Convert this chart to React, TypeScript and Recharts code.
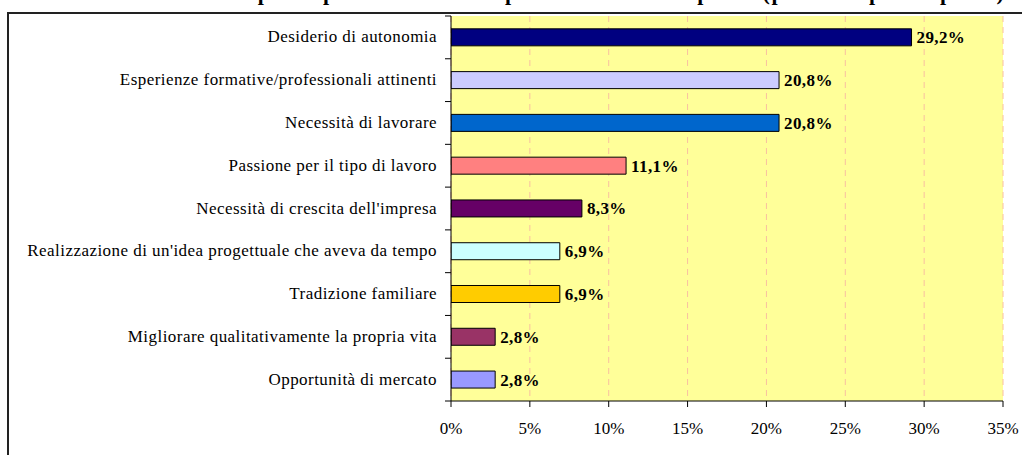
import { BarChart, Bar, XAxis, YAxis, CartesianGrid, Cell, LabelList } from "recharts"

// categorie e valori (% risposte)
const categories = [
 "Desiderio di autonomia",
 "Esperienze formative/professionali attinenti",
 "Necessità di lavorare",
 "Passione per il tipo di lavoro",
 "Necessità di crescita dell'impresa",
 "Realizzazione di un'idea progettuale che aveva da tempo",
 "Tradizione familiare",
 "Migliorare qualitativamente la propria vita",
 "Opportunità di mercato"
]
const values = [29.2, 20.8, 20.8, 11.1, 8.3, 6.9, 6.9, 2.8, 2.8]
const colors = ["#000080", "#CCCCFF", "#0066CC", "#FF8080", "#660066", "#CCFFFF", "#FFCC00", "#993366", "#9999FF"]
const xTicks = [0, 5, 10, 15, 20, 25, 30, 35]

const title = "Grafico n. 5 - Le principali motivazioni per avviare un'impresa (possibili più risposte)"

const W = 1022
const H = 455
const TOP = 16
const BOTTOM = 401
const LEFT = 451
const BAND = (BOTTOM - TOP) / categories.length

const data = categories.map((name, i) => ({ name, value: values[i] }))

const fmt = (v: any) => Number(v).toFixed(1).replace(".", ",") + "%"

const YTick = (props: any) => {
 const { y, payload, index } = props
 const last = index === categories.length - 1
 return (
  <g>
   <text x={LEFT - 14} y={y + 5} textAnchor="end" fontSize={17} letterSpacing={0.45} fill="#000">{payload.value}</text>
   <line x1={LEFT - 6} x2={LEFT} y1={y - BAND / 2} y2={y - BAND / 2} stroke="#000" />
   {last && <line x1={LEFT - 6} x2={LEFT} y1={y + BAND / 2} y2={y + BAND / 2} stroke="#000" />}
  </g>
 )
}

const XTick = (props: any) => {
 const { x, y, payload } = props
 return <text x={x} y={y + 25} textAnchor="middle" fontSize={17} fill="#000">{payload.value}%</text>
}

export default function App(){
 return(
 <div style={{ position: "absolute", left: 0, top: 0, width: W, height: H, overflow: "hidden", background: "#fff", fontFamily: "'Liberation Serif', 'Times New Roman', serif" }}>

  {/* titolo, tagliato in alto come nell'originale */}
  <div style={{ position: "absolute", left: 0, top: -18, width: 1076, textAlign: "center", fontSize: 22, lineHeight: "22px", letterSpacing: 1.5, fontWeight: "bold", whiteSpace: "nowrap" }}>
   {title}
  </div>

  {/* cornice */}
  <div style={{ position: "absolute", left: 7, top: 12, width: 1100, height: 500, borderLeft: "2px solid #222", borderTop: "2px solid #222" }} />

  <div style={{ position: "absolute", left: 0, top: 0 }}>
   <BarChart width={W} height={H} data={data} layout="vertical" margin={{ top: TOP, right: W - 1003, bottom: 24, left: 0 }} barCategoryGap="30%">

    <CartesianGrid horizontal={false} fill="#FFFF99" stroke="#F8C0A0" strokeDasharray="6 5" />

    <XAxis type="number" domain={[0, 35]} ticks={xTicks} allowDataOverflow height={30}
     axisLine={{ stroke: "#000" }} tickLine={{ stroke: "#000" }} tickSize={6} tickMargin={2} tick={<XTick />} />
    <XAxis xAxisId="top" orientation="top" type="number" domain={[0, 35]} height={0}
     axisLine={{ stroke: "#808080" }} tick={false} tickLine={false} />

    <YAxis type="category" dataKey="name" width={LEFT} axisLine={{ stroke: "#000" }} tickLine={false} tick={<YTick />} interval={0} />
    <YAxis yAxisId="right" orientation="right" type="category" dataKey="name" width={0}
     axisLine={{ stroke: "#808080" }} tick={false} tickLine={false} />

    <Bar dataKey="value" stroke="#000" strokeWidth={1} isAnimationActive={false}>
     {data.map((d, i) => <Cell key={d.name} fill={colors[i]} />)}
     <LabelList dataKey="value" position="right" offset={5} formatter={fmt}
      style={{ fontSize: 17, fontWeight: "bold", letterSpacing: 0.4, fill: "#000", fontFamily: "'Liberation Serif', serif" }} />
    </Bar>

   </BarChart>
  </div>

 </div>
 )
}
